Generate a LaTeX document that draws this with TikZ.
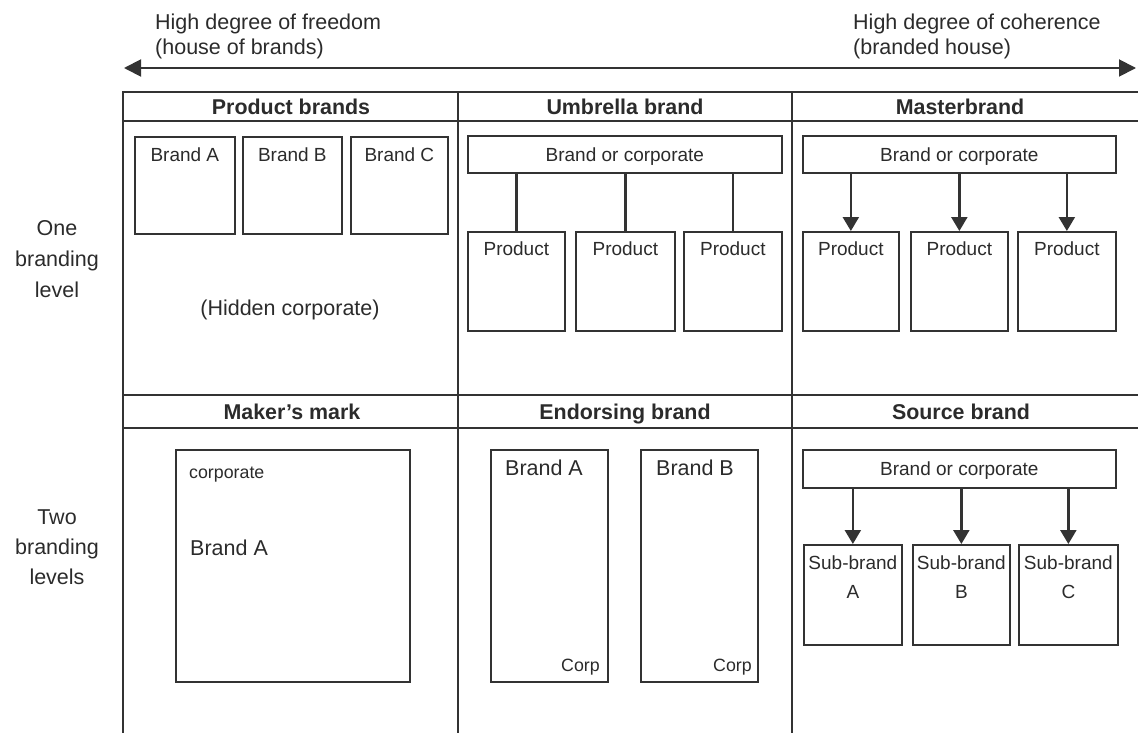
\documentclass[tikz,border=0pt]{standalone}
\usepackage{fontspec}
\setmainfont{Liberation Sans}
\usetikzlibrary{arrows.meta}
\definecolor{ln}{HTML}{333333}
\definecolor{tx}{HTML}{2b2b2b}
\begin{document}
\begin{tikzpicture}[x=1pt,y=-1pt,
 box/.style={draw=ln, line width=1.7pt, rectangle, inner sep=0pt, anchor=north west, minimum height=#1},
 gridline/.style={draw=ln, line width=1.7pt},
 conn/.style={draw=ln, line width=2.4pt},
 arr/.style={conn, -{Triangle[length=14pt,width=16pt]}},
 big/.style={text=tx, inner sep=0pt, font=\fontsize{21.5}{25}\selectfont},
 bigc/.style={big, text height=15.4pt, text depth=0pt},
 small/.style={text=tx, inner sep=0pt, font=\fontsize{19}{22}\selectfont, text height=13.6pt, text depth=0pt},
 tiny/.style={text=tx, inner sep=0pt, font=\fontsize{17.8}{21}\selectfont, text height=12.8pt, text depth=0pt},
 head/.style={text=tx, inner sep=0pt, font=\bfseries\fontsize{21.4}{25}\selectfont, text height=15.4pt, text depth=0pt},
]
\useasboundingbox (0,0) rectangle (1138,733);

% top double arrow and texts
\coordinate (al) at (124,68);
\coordinate (ar) at (1136,68);
\draw[conn, line width=1.9pt, {Triangle[length=17pt,width=17pt]}-{Triangle[length=17pt,width=17pt]}] (al) -- (ar);
\node[big, align=left, anchor=west, font=\fontsize{21.5}{25}\selectfont] (free) at (155,36.8) {High degree of freedom\\(house of brands)};
\node[big, align=left, anchor=west, font=\fontsize{21.5}{25}\selectfont] (coh) at (853,36.8) {High degree of coherence\\(branded house)};

% row labels
\node[big, align=center, font=\fontsize{21.5}{31}\selectfont] (one) at (57,259) {One\\branding\\level};
\node[big, align=center, font=\fontsize{21.5}{30}\selectfont] (two) at (57,547) {Two\\branding\\levels};

% table grid
\draw[gridline] (123,733) -- (123,92) -- (1138,92);
\draw[gridline] (123,121) -- (1138,121);
\draw[gridline] (123,395) -- (1138,395);
\draw[gridline] (123,428) -- (1138,428);
\draw[gridline] (458,92) -- (458,733);
\draw[gridline] (792,92) -- (792,733);

% headers
\node[head] (h1) at (291,106.5) {Product brands};
\node[head] (h2) at (625,106.5) {Umbrella brand};
\node[head] (h3) at (960,106.5) {Masterbrand};
\node[head] (h4) at (292,411.5) {Maker's mark};
\node[head] (h5) at (625,411.5) {Endorsing brand};
\node[head] (h6) at (961,411.5) {Source brand};

% Product brands
\node[box=97pt, minimum width=100pt] (pa) at (134,136) {};
\node[box=97pt, minimum width=99pt] (pb) at (242,136) {};
\node[box=97pt, minimum width=97pt] (pc) at (350,136) {};
\node[small] at (pa.north |- 0,155) {Brand A};
\node[small] at (pb.north |- 0,155) {Brand B};
\node[small] at (pc.north |- 0,155) {Brand C};
\node[bigc] (hid) at (290,308) {(Hidden corporate)};

% Umbrella brand
\node[box=37pt, minimum width=314pt] (uc) at (467,135) {};
\node[small] at (uc.center) {Brand or corporate};
\node[box=99pt, minimum width=97pt] (u1) at (467,231) {};
\node[box=99pt, minimum width=99pt] (u2) at (575,231) {};
\node[box=99pt, minimum width=98pt] (u3) at (683,231) {};
\foreach \n in {u1,u2,u3}{
  \node[small] at (\n.north |- 0,249) {Product};
  \draw[conn] (uc.south -| \n.north) -- (\n.north);
}

% Masterbrand
\node[box=37pt, minimum width=313pt] (mc) at (802,135) {};
\node[small] at (mc.center) {Brand or corporate};
\node[box=99pt, minimum width=96pt] (m1) at (802,231) {};
\node[box=99pt, minimum width=97pt] (m2) at (910,231) {};
\node[box=99pt, minimum width=98pt] (m3) at (1017,231) {};
\foreach \n in {m1,m2,m3}{
  \node[small] at (\n.north |- 0,249) {Product};
  \draw[arr] (mc.south -| \n.north) -- (\n.north);
}

% Maker's mark
\node[box=232pt, minimum width=234pt] (mk) at (175,449) {};
\node[tiny, anchor=west] at (189,472) {corporate};
\node[bigc, anchor=west] at (190,548) {Brand A};

% Endorsing brand
\node[box=232pt, minimum width=117pt] (ea) at (490,449) {};
\node[box=232pt, minimum width=117pt] (eb) at (640,449) {};
\node[bigc] at (544,468) {Brand A};
\node[bigc] at (695,468) {Brand B};
\node[tiny, anchor=east] at (600,665) {Corp};
\node[tiny, anchor=east] at (752,665) {Corp};

% Source brand
\node[box=38pt, minimum width=313pt] (sc) at (802,449) {};
\node[small] at (sc.center) {Brand or corporate};
\node[box=100pt, minimum width=98pt] (s1) at (803,544) {};
\node[box=100pt, minimum width=97pt] (s2) at (912,544) {};
\node[box=100pt, minimum width=99pt] (s3) at (1018,544) {};
\node[small] at (s1.north |- 0,563) {Sub-brand};
\node[small] at (s2.north |- 0,563) {Sub-brand};
\node[small] at (s3.north |- 0,563) {Sub-brand};
\node[small] at (s1.north |- 0,592) {A};
\node[small] at (s2.north |- 0,592) {B};
\node[small] at (s3.north |- 0,592) {C};
\foreach \n in {s1,s2,s3}{
  \draw[arr] (sc.south -| \n.north) -- (\n.north);
}
\end{tikzpicture}
\end{document}
